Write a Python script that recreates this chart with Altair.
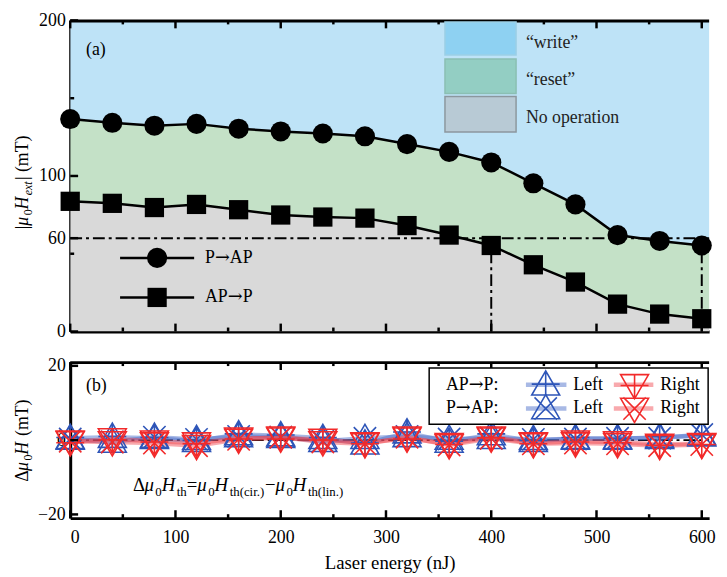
import altair as alt
import pandas as pd

FONT = "Liberation Serif"
ARROW_FONT = "DejaVu Serif"

# ---------------- data ----------------
energy = [0, 40, 80, 120, 160, 200, 240, 280, 320, 360, 400, 440, 480, 520, 560, 600]
p_to_ap = [136.6, 134.2, 132.3, 133.5, 130.4, 128.6, 127.3, 125.5, 120.5, 115.5, 108.7, 95.3, 81.7, 62.0, 58.2, 55.3]
ap_to_p = [83.7, 82.4, 79.7, 81.7, 78.3, 74.9, 73.6, 72.9, 68.1, 62.0, 55.3, 42.9, 31.8, 17.6, 11.2, 8.2]
# continuation of the curves past the right frame edge
energy_edge = [640]
p_to_ap_edge = [53.0]
ap_to_p_edge = [6.0]

threshold_field = [60]
threshold_energy = [400, 600]

d_app_left = [0.5, 0.8, 0.5, -0.3, 1.5, 1.2, 0.5, -1.0, 2.0, -0.5, 1.5, -0.3, 0.5, 0.3, 0.8, 1.2]
d_pap_left = [0.3, -0.5, 0.8, 0.2, 1.0, 0.8, -0.3, 0.5, 1.0, 0.3, 0.5, 0.2, 0.3, 0.5, 0.5, 1.5]
d_app_right = [-0.5, 0.3, -0.3, -0.8, 0.5, 0.5, 0.2, -0.8, 0.5, -1.0, 0.8, -0.8, -0.3, -0.5, -1.2, -1.0]
d_pap_right = [-0.3, -0.5, -0.8, -1.5, 0.2, 0.8, -0.5, -1.0, 0.8, -1.3, 0.5, -1.0, -0.8, -1.0, -1.5, -1.2]

region_labels = ["\u201cwrite\u201d", "\u201creset\u201d", "No operation"]

x_major = [0, 100, 200, 300, 400, 500, 600]
x_minor = [50, 150, 250, 350, 450, 550]
y1_labels = [0, 60, 100, 200]
y1_minor = [50, 150]
y2_labels = [-20, 0, 20]

# ---------------- layout ----------------
W = 647
H1 = 315
H2 = 158
XMAX = 607

xs = alt.Scale(domain=[0, XMAX], nice=False, zero=False)
ys1 = alt.Scale(domain=[0, 200], nice=False, zero=False)
ys2 = alt.Scale(domain=[-21, 21], nice=False, zero=False)

ax_x_top = alt.Axis(title=None, labels=False, ticks=False, grid=False,
                    domainWidth=3, domainColor="black")
ax_x_bot = alt.Axis(title="Laser energy (nJ)", values=x_major, format="d",
                    labelFont=FONT, labelFontSize=18, labelColor="black", labelPadding=11,
                    ticks=False, grid=False, domainWidth=3, domainColor="black",
                    titleFont=FONT, titleFontSize=19, titleFontWeight="normal",
                    titleColor="black", titlePadding=7)
ax_y1 = alt.Axis(title=None, values=y1_labels, labelFont=FONT, labelFontSize=18,
                 labelColor="black", labelPadding=5, ticks=False, grid=False,
                 domainWidth=3, domainColor="black")
ax_y2 = alt.Axis(title=None, values=y2_labels, labelFont=FONT, labelFontSize=18,
                 labelColor="black", labelPadding=5, ticks=False, grid=False,
                 domainWidth=3, domainColor="black")


def X1(f):
    return alt.X(f"{f}:Q", scale=xs, axis=ax_x_top)


def X2(f):
    return alt.X(f"{f}:Q", scale=xs, axis=ax_x_bot)


def Y1(f):
    return alt.Y(f"{f}:Q", scale=ys1, axis=ax_y1)


def Y2(f):
    return alt.Y(f"{f}:Q", scale=ys2, axis=ax_y2)


PX = alt.X("px:Q", scale=None)
PY = alt.Y("py:Q", scale=None)

# Times-like advance widths (em)
WID = {"|": 0.2, "\u03bc": 0.5, "0": 0.5, "H": 0.722, "\u0394": 0.612, " ": 0.25,
       "(": 0.333, ")": 0.333, "m": 0.778, "T": 0.611, "=": 0.564, "\u2212": 0.564,
       "t": 0.278, "h": 0.5, "c": 0.444, "i": 0.278, "r": 0.333, ".": 0.25,
       "l": 0.278, "n": 0.5, "e": 0.444, "x": 0.47, "A": 0.722, "P": 0.556,
       ":": 0.278, "\u2192": 0.84}


def seg_text(segs, x0, y0, vertical, size, subsize, subdy, center=False,
             baseline="alphabetic"):
    rows = []
    cum = 0.0
    for text, style in segs:
        sub = style.startswith("sub")
        fs = subsize if sub else size
        ital = style in ("i", "subi")
        w = sum(WID.get(ch, 0.5) for ch in text) * fs + (0.08 * fs if ital else 0)
        if style != "gap":
            rows.append(dict(t=text, style=style, off=cum))
        cum += w
    shift = cum / 2 if center else 0
    for r in rows:
        if vertical:
            r["px"] = x0
            r["py"] = y0 + shift - r["off"]
        else:
            r["px"] = x0 - shift + r["off"]
            r["py"] = y0
    df = pd.DataFrame(rows)
    layers = []
    for style in df["style"].unique():
        sub = style.startswith("sub")
        ital = style in ("i", "subi")
        layers.append(
            alt.Chart(df[df["style"] == style]).mark_text(
                align="left", baseline=baseline,
                font=ARROW_FONT if style == "arrow" else FONT,
                fontSize=subsize if sub else size,
                fontStyle="italic" if ital else "normal",
                angle=270 if vertical else 0, dy=subdy if sub else 0, color="black"
            ).encode(x=PX, y=PY, text="t:N")
        )
    return layers


def rule_ticks_x(vals, lengths, H, XF):
    df = pd.DataFrame({"v": vals, "len": lengths})
    df["bot"] = H - df["len"]
    df["zero"] = 0
    df["h"] = H
    top = alt.Chart(df).mark_rule(color="black", strokeWidth=2.5).encode(
        x=XF("v"), y=alt.Y("len:Q", scale=None), y2="zero:Q")
    bot = alt.Chart(df).mark_rule(color="black", strokeWidth=2.5).encode(
        x=XF("v"), y=alt.Y("bot:Q", scale=None), y2="h:Q")
    return [top, bot]


def border(Wd):
    return alt.Chart(pd.DataFrame({"x0": [0], "x1": [Wd], "py": [0.5]})).mark_rule(
        color="black", strokeWidth=3).encode(x=alt.X("x0:Q", scale=None), x2="x1:Q", y=PY)


DASH = [12, 4, 3, 4]

# ---------------- panel (a) ----------------
df_curve = pd.DataFrame({
    "energy": energy + energy_edge,
    "p_ap": p_to_ap + p_to_ap_edge,
    "ap_p": ap_to_p + ap_to_p_edge,
})
df_curve["top"] = 200
df_curve["bottom"] = 0
df_pts = pd.DataFrame({"energy": energy, "p_ap": p_to_ap, "ap_p": ap_to_p})

blue = alt.Chart(df_curve).mark_area(color="#BEE3F7", clip=True, opacity=1).encode(
    x=X1("energy"), y=Y1("p_ap"), y2="top:Q")
green = alt.Chart(df_curve).mark_area(color="#C4E1C7", clip=True, opacity=1).encode(
    x=X1("energy"), y=Y1("ap_p"), y2="p_ap:Q")
gray = alt.Chart(df_curve).mark_area(color="#D9D9D9", clip=True, opacity=1).encode(
    x=X1("energy"), y=Y1("ap_p"), y2="bottom:Q")

hline = alt.Chart(pd.DataFrame({"t": threshold_field, "x0": [0], "x1": [W]})).mark_rule(
    color="black", strokeWidth=2, strokeDash=DASH).encode(
    y=Y1("t"), x=alt.X("x0:Q", scale=None), x2="x1:Q")
vlines = alt.Chart(pd.DataFrame({"e": threshold_energy, "lo": [0, 0],
                                 "hi": threshold_field * 2})).mark_rule(
    color="black", strokeWidth=2, strokeDash=DASH).encode(
    x=X1("e"), y=Y1("lo"), y2="hi:Q")

line_c = alt.Chart(df_curve).mark_line(color="black", strokeWidth=2.5, clip=True).encode(
    x=X1("energy"), y=Y1("p_ap"))
line_s = alt.Chart(df_curve).mark_line(color="black", strokeWidth=2.5, clip=True).encode(
    x=X1("energy"), y=Y1("ap_p"))
pts_c = alt.Chart(df_pts).mark_point(shape="circle", filled=True, color="black",
                                     size=415, opacity=1).encode(x=X1("energy"), y=Y1("p_ap"))
pts_s = alt.Chart(df_pts).mark_point(shape="square", filled=True, color="black",
                                     size=380, opacity=1).encode(x=X1("energy"), y=Y1("ap_p"))

ticks_a = rule_ticks_x(x_major + x_minor, [8] * len(x_major) + [4] * len(x_minor), H1, X1)
df_yt1 = pd.DataFrame({"v": y1_labels + y1_minor,
                       "len": [8] * len(y1_labels) + [4] * len(y1_minor)})
df_yt1["zero"] = 0
yticks_a = alt.Chart(df_yt1).mark_rule(color="black", strokeWidth=2.5).encode(
    y=Y1("v"), x=alt.X("len:Q", scale=None), x2="zero:Q")

# region legend (top right)
df_sw = pd.DataFrame({
    "x0": [379.5] * 3, "x1": [451.5] * 3,
    "y0": [1.5, 39, 77], "y1": [35, 74, 113],
    "c": ["#8ED1F2", "#93CEC3", "#B8CAD5"],
    "s": ["#9CCFE6", "#8BBFB3", "#8C979E"],
})
swatches = alt.Chart(df_sw).mark_rect(strokeWidth=1.5).encode(
    x=alt.X("x0:Q", scale=None), x2="x1:Q", y=alt.Y("y0:Q", scale=None), y2="y1:Q",
    fill=alt.Fill("c:N", scale=None), stroke=alt.Stroke("s:N", scale=None))
df_swt = pd.DataFrame({"t": region_labels, "px": [461.5] * 3, "py": [22.5, 60.5, 98.5]})
sw_text = alt.Chart(df_swt).mark_text(align="left", baseline="middle", font=FONT,
                                      fontSize=18, color="#222222").encode(x=PX, y=PY, text="t:N")

# curve legend (lower left)
df_cl = pd.DataFrame({"x0": [50.5, 50.5], "x1": [125.5, 125.5], "py": [240.5, 280.5]})
cl_lines = alt.Chart(df_cl).mark_rule(color="black", strokeWidth=2.5).encode(
    x=alt.X("x0:Q", scale=None), x2="x1:Q", y=PY)
cl_c = alt.Chart(pd.DataFrame({"px": [88], "py": [240.5]})).mark_point(
    shape="circle", filled=True, color="black", size=415, opacity=1).encode(x=PX, y=PY)
cl_s = alt.Chart(pd.DataFrame({"px": [88], "py": [280.5]})).mark_point(
    shape="square", filled=True, color="black", size=380, opacity=1).encode(x=PX, y=PY)
cl_text = (seg_text([("P", "n"), ("\u2192", "arrow"), ("AP", "n")], 136.5, 240.5, False, 18, 18, 0,
                    baseline="middle")
           + seg_text([("AP", "n"), ("\u2192", "arrow"), ("P", "n")], 136.5, 280.5, False, 18, 18, 0,
                      baseline="middle"))

label_a = alt.Chart(pd.DataFrame({"t": ["(a)"], "px": [16], "py": [30.5]})).mark_text(
    align="left", baseline="middle", font=FONT, fontSize=18, color="black").encode(
    x=PX, y=PY, text="t:N")

title_a = seg_text([("|", "n"), ("\u03bc", "i"), ("0", "sub"), ("H", "i"), ("ext", "subi"),
                    ("|", "n"), (" ", "gap"), ("(mT)", "n")], -42.5, 164, True, 18, 12, 4, center=True)

panel_a = alt.layer(
    blue, green, gray, hline, vlines, line_c, line_s, pts_c, pts_s,
    *ticks_a, yticks_a, border(W), swatches, sw_text, cl_lines, cl_c, cl_s, *cl_text,
    label_a, *title_a
).properties(width=W, height=H1)

# ---------------- panel (b) ----------------
series = [
    ("AP\u2192P Left", d_app_left, "#2E55B8", "#3F63C6",
     "M0,-1L-1,0.73L1,0.73Z M0,-1L0,0.73 M-1,-0.05L1,-0.05"),
    ("P\u2192AP Left", d_pap_left, "#2E55B8", "#3F63C6",
     "M0,-1L-1,0.73L1,0.73Z M-0.8,-0.8L0.8,0.8 M-0.8,0.8L0.8,-0.8"),
    ("AP\u2192P Right", d_app_right, "#F22A2A", "#F0404A",
     "M0,1L-1,-0.73L1,-0.73Z M0,1L0,-0.73 M-1,0.05L1,0.05"),
    ("P\u2192AP Right", d_pap_right, "#F22A2A", "#F0404A",
     "M0,1L-1,-0.73L1,-0.73Z M-0.8,-0.8L0.8,0.8 M-0.8,0.8L0.8,-0.8"),
]

zero_line = alt.Chart(pd.DataFrame({"z": [0], "x0": [0], "x1": [W]})).mark_rule(
    color="black", strokeWidth=2, strokeDash=DASH).encode(
    y=Y2("z"), x=alt.X("x0:Q", scale=None), x2="x1:Q")

b_lines = []
b_points = []
for name, vals, mcol, lcol, path in series:
    dfs = pd.DataFrame({"energy": energy, "d": vals})
    b_lines.append(alt.Chart(dfs).mark_line(color=lcol, strokeWidth=4.5, opacity=0.45).encode(
        x=X2("energy"), y=Y2("d")))
    b_points.append(alt.Chart(dfs).mark_point(shape=path, filled=False, color=mcol,
                                              strokeWidth=1.6, size=800, opacity=1).encode(
        x=X2("energy"), y=Y2("d")))

ticks_b = rule_ticks_x(x_major + x_minor, [8] * len(x_major) + [4] * len(x_minor), H2, X2)
df_yt2 = pd.DataFrame({"v": y2_labels, "len": [8] * len(y2_labels)})
df_yt2["zero"] = 0
yticks_b = alt.Chart(df_yt2).mark_rule(color="black", strokeWidth=2.5).encode(
    y=Y2("v"), x=alt.X("len:Q", scale=None), x2="zero:Q")

# legend of panel (b)
box = alt.Chart(pd.DataFrame({"x0": [363.5], "x1": [W - 1], "y0": [6], "y1": [63]})).mark_rect(
    fill="white", stroke="black", strokeWidth=1.5).encode(
    x=alt.X("x0:Q", scale=None), x2="x1:Q", y=alt.Y("y0:Q", scale=None), y2="y1:Q")
leg_row_text = (seg_text([("AP", "n"), ("\u2192", "arrow"), ("P:", "n")], 380.5, 23, False, 18, 18, 0,
                         baseline="middle")
                + seg_text([("P", "n"), ("\u2192", "arrow"), ("AP:", "n")], 380.5, 47, False, 18, 18, 0,
                           baseline="middle"))
leg_items = []
for i, (name, vals, mcol, lcol, path) in enumerate(series):
    left = i < 2
    row_y = 23 if i % 2 == 0 else 47
    lx0, lx1, mx, tx = (461.5, 502.5, 481.5, 509.5) if left else (550.5, 590.5, 571.5, 597.5)
    leg_items.append(alt.Chart(pd.DataFrame({"x0": [lx0], "x1": [lx1], "py": [row_y]})).mark_rule(
        color=lcol, strokeWidth=4.5, opacity=0.45).encode(x=alt.X("x0:Q", scale=None), x2="x1:Q", y=PY))
    leg_items.append(alt.Chart(pd.DataFrame({"px": [mx], "py": [row_y]})).mark_point(
        shape=path, filled=False, color=mcol, strokeWidth=1.6, size=800, opacity=1).encode(x=PX, y=PY))
    leg_items.append(alt.Chart(pd.DataFrame({"t": ["Left" if left else "Right"], "px": [tx],
                                             "py": [row_y]})).mark_text(
        align="left", baseline="middle", font=FONT, fontSize=18, color="black").encode(
        x=PX, y=PY, text="t:N"))

label_b = alt.Chart(pd.DataFrame({"t": ["(b)"], "px": [16], "py": [24]})).mark_text(
    align="left", baseline="middle", font=FONT, fontSize=18, color="black").encode(
    x=PX, y=PY, text="t:N")

formula = seg_text([("\u0394", "n"), ("\u03bc", "i"), ("0", "sub"), ("H", "i"), ("th", "sub"),
                    ("=", "n"), ("\u03bc", "i"), ("0", "sub"), ("H", "i"), ("th(cir.)", "sub"),
                    ("\u2212", "n"), ("\u03bc", "i"), ("0", "sub"), ("H", "i"), ("th(lin.)", "sub")],
                   63.5, 131, False, 19, 13, 5)

title_b = seg_text([("\u0394", "n"), ("\u03bc", "i"), ("0", "sub"), ("H", "i"), (" ", "gap"),
                    ("(mT)", "n")], -42.5, 79.5, True, 18, 12, 4, center=True)

panel_b = alt.layer(
    zero_line, *b_lines, *b_points, *ticks_b, yticks_b, border(W),
    box, *leg_row_text, *leg_items, label_b, *formula, *title_b
).properties(width=W, height=H2)

chart = alt.vconcat(panel_a, panel_b, spacing=16).properties(
    padding={"left": 6, "top": 0, "right": 0, "bottom": 0}
).configure_view(stroke=None)

chart.save("out.html", embed_options={"renderer": "svg", "actions": False})
